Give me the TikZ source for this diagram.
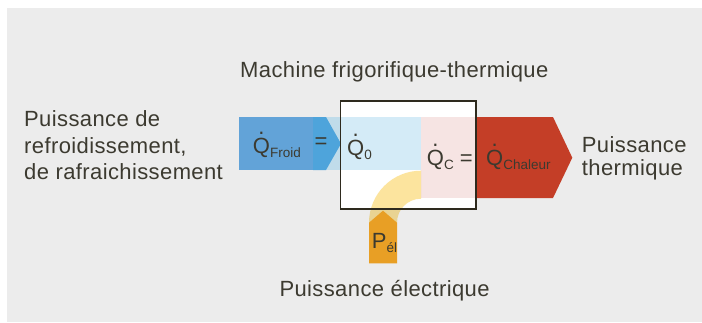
\documentclass[tikz,border=0pt]{standalone}
\usepackage{fontspec}
\setmainfont{Liberation Sans}
\usepackage{xcolor}
\usepackage{tikz}
\usetikzlibrary{positioning}
\definecolor{bggrey}{RGB}{236,236,236}
\definecolor{txtgrey}{RGB}{60,58,48}
\definecolor{froidblue}{RGB}{98,163,216}
\definecolor{mixblue}{RGB}{78,164,219}
\definecolor{lightblue}{RGB}{212,235,247}
\definecolor{greyblue}{RGB}{192,220,234}
\definecolor{lightpink}{RGB}{246,228,227}
\definecolor{chaleurred}{RGB}{196,62,39}
\definecolor{palemelon}{RGB}{252,228,158}
\definecolor{elorange}{RGB}{232,159,37}
\definecolor{boxline}{RGB}{46,42,30}
\newcommand{\lowidx}[1]{\raisebox{-4pt}{\fontsize{13.5}{13.5}\selectfont #1}}
\newcommand{\qdot}{\ooalign{Q\cr\hidewidth\raisebox{0.82em}{.}\hidewidth\cr}}

\begin{document}
\begin{tikzpicture}[
  x=1pt, y=-1pt,
  every node/.style={inner sep=0pt, text=txtgrey, font=\fontsize{22}{26.7}\selectfont},
  lbl/.style    = {anchor=base west},
  captxt/.style = {font=\fontsize{22}{26.7}\selectfont\addfontfeatures{LetterSpace=1.8}},
  blk/.style    = {captxt, anchor=north west, align=left}
]
\useasboundingbox (0,0) rectangle (702,322);
\fill[bggrey] (7,8) rectangle (702,322);

%% ===== machine box and flow bands =====
\fill[white] (340.7,101) rectangle (476,209);
\fill[lightpink] (421,117) rectangle (476,198);
\fill[greyblue] (313,117) rectangle (341,170);
\fill[lightblue] (341,117) rectangle (421,170);
\fill[froidblue] (239,117) rectangle (313,170);
\fill[mixblue] (313,117) -- (326,117) -- (341,143.7) -- (326,170) -- (313,170) -- cycle;
\begin{scope}[blend mode=multiply]
  \fill[palemelon] (369,222.7) arc[start angle=180, end angle=270, radius=52]
    -- (421,198.7) arc[start angle=270, end angle=180, radius=24] -- cycle;
\end{scope}
\fill[elorange] (369,263.3) -- (369,222.7) -- (383,210.7) -- (397,222.7) -- (397,263.3) -- cycle;
\fill[chaleurred] (476,117) -- (553,117) -- (572.3,157.7) -- (553,198) -- (476,198) -- cycle;
\draw[draw=boxline, line width=1.5pt] (340.7,101) rectangle (476,209);

%% ===== quantities =====
\node[lbl] (qfroid) at (252.7,153) {\qdot\lowidx{Froid}};
\node (eqfroid) at (321,143) {=};
\node[lbl] (qzero) at (347,155) {\qdot\lowidx{0}};
\node[lbl] (qc) at (426.7,165) {\qdot\lowidx{C} =};
\node[lbl] (qchaleur) at (486,165) {\qdot\lowidx{Chaleur}};
\node[lbl] (pel) at (371.7,248) {P\lowidx{él}};

%% ===== captions =====
\node[lbl, captxt] (machine) at (240,77.3) {Machine frigorifique-thermique};
\node[blk] (froidtxt) at (24,110.2) {Puissance de\\refroidissement,\\de rafraichissement};
\node[blk, font=\fontsize{22}{23.5}\selectfont\addfontfeatures{LetterSpace=1.8}] (thermtxt) at (581.7,135.9) {Puissance\\thermique};
\node[lbl, captxt] (eltxt) at (279.3,296) {Puissance électrique};

\end{tikzpicture}
\end{document}
